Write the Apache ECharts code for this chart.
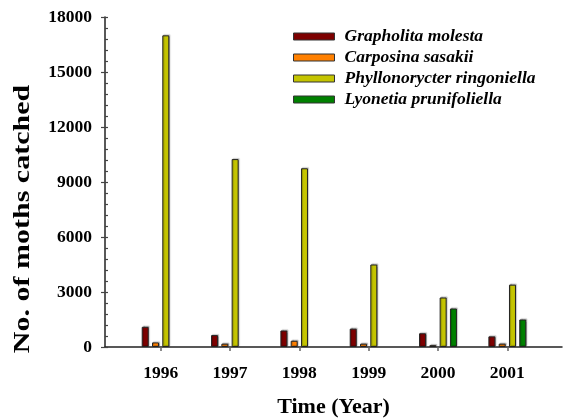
<!DOCTYPE html>
<html>
<head>
<meta charset="utf-8">
<script src="https://cdn.jsdelivr.net/npm/echarts@6/dist/echarts.min.js"></script>
<style>
  html, body { margin: 0; padding: 0; background: #fff; }
  #chart { width: 563px; height: 418px; }
</style>
</head>
<body>
<div id="chart"></div>
<script>
// Annual light-trap catches per species
const years = ['1996', '1997', '1998', '1999', '2000', '2001'];
const grapholitaMolesta = [1100, 650, 900, 1000, 750, 580];
const carposinaSasakii = [250, 180, 340, 180, 100, 180];
const phyllonorycterRingoniella = [17000, 10250, 9750, 4500, 2700, 3400];
const lyonetiaPrunifoliella = [0, 0, 0, 0, 2100, 1500];
const yTicks = [0, 3000, 6000, 9000, 12000, 15000, 18000];

const seriesNames = ['Grapholita molesta', 'Carposina sasakii', 'Phyllonorycter ringoniella', 'Lyonetia prunifoliella'];
const seriesData = [grapholitaMolesta, carposinaSasakii, phyllonorycterRingoniella, lyonetiaPrunifoliella];
const colors = ['#7d0000', '#ff8000', '#c4c400', '#008000'];

const serif = '"Liberation Serif", "Times New Roman", serif';
const yMin = yTicks[0];
const yMax = yTicks[yTicks.length - 1];
const yStep = yTicks[1] - yTicks[0];

const chart = echarts.init(document.getElementById('chart'), null, { renderer: 'canvas' });

const gridTop = 17;
const gridBottom = 71;

chart.setOption({
  animation: false,
  backgroundColor: '#ffffff',
  grid: [
    // frame grid: carries the value axis and the full-width baseline
    { left: 105, right: 1, top: gridTop, bottom: gridBottom, containLabel: false, outerBoundsMode: 'none' },
    // bar grid: year bands
    { left: 126, right: 21, top: gridTop, bottom: gridBottom, containLabel: false, outerBoundsMode: 'none' }
  ],
  xAxis: [
    {
      gridIndex: 0, type: 'value', min: 0, max: 1,
      axisLine: { show: true, lineStyle: { color: '#222', width: 1.5 } },
      axisTick: { show: false }, axisLabel: { show: false }, splitLine: { show: false },
      name: 'Time (Year)', nameLocation: 'middle', nameGap: 49,
      nameTextStyle: { fontFamily: serif, fontWeight: 'bold', fontSize: 22, color: '#000' }
    },
    {
      gridIndex: 1, type: 'category', data: years,
      axisLine: { show: false },
      axisTick: { show: true, alignWithLabel: true, length: 4, lineStyle: { color: '#666', width: 1.5 } },
      axisLabel: { fontFamily: serif, fontWeight: 'bold', fontSize: 17.5, color: '#000', margin: 17.5 },
      splitLine: { show: false }
    }
  ],
  yAxis: [
    {
      gridIndex: 0, type: 'value', position: 'left', min: yMin, max: yMax, interval: yStep,
      axisLine: { show: true, lineStyle: { color: '#222', width: 1.5 } },
      axisTick: { show: true, inside: false, length: 4, lineStyle: { color: '#444', width: 1.2 } },
      axisLabel: {
        fontFamily: serif, fontWeight: 'bold', fontSize: 17.5, color: '#000', margin: 13,
        formatter: v => String(v)
      },
      splitLine: { show: false }
    },
    {
      // inward minor ticks every 600
      gridIndex: 0, type: 'value', position: 'left', min: yMin, max: yMax, interval: yStep / 5,
      axisLine: { show: false },
      axisTick: { show: true, inside: true, length: 3, lineStyle: { color: '#444', width: 1.2 } },
      axisLabel: { show: false }, splitLine: { show: false }
    },
    {
      gridIndex: 1, type: 'value', min: yMin, max: yMax, interval: yStep, show: false
    }
  ],
  legend: {
    orient: 'vertical',
    left: 293, top: 27.5, padding: 0,
    itemWidth: 41, itemHeight: 7, itemGap: 3,
    icon: 'rect',
    data: seriesNames,
    itemStyle: { borderColor: '#333', borderWidth: 1 },
    textStyle: {
      fontFamily: serif, fontWeight: 'bold', fontStyle: 'italic', fontSize: 17.5,
      color: '#000', lineHeight: 16, padding: [0, 0, 0, 5]
    }
  },
  graphic: [
    {
      type: 'text', x: 23, y: 219, rotation: Math.PI / 2, scaleX: 1.25,
      style: {
        text: 'No. of moths catched',
        font: 'bold 24px ' + serif,
        fill: '#000', textAlign: 'center', textVerticalAlign: 'middle'
      }
    }
  ],
  series: seriesNames.map((name, i) => ({
    name: name,
    type: 'bar',
    xAxisIndex: 1, yAxisIndex: 2,
    data: seriesData[i].map(v => (v > 0 ? v : null)),
    barWidth: 7,
    barGap: '47%',
    itemStyle: {
      color: colors[i], borderColor: '#222', borderWidth: 1,
      shadowColor: 'rgba(0,0,0,0.25)', shadowOffsetX: 1, shadowOffsetY: -1, shadowBlur: 1
    }
  }))
});
</script>
</body>
</html>
